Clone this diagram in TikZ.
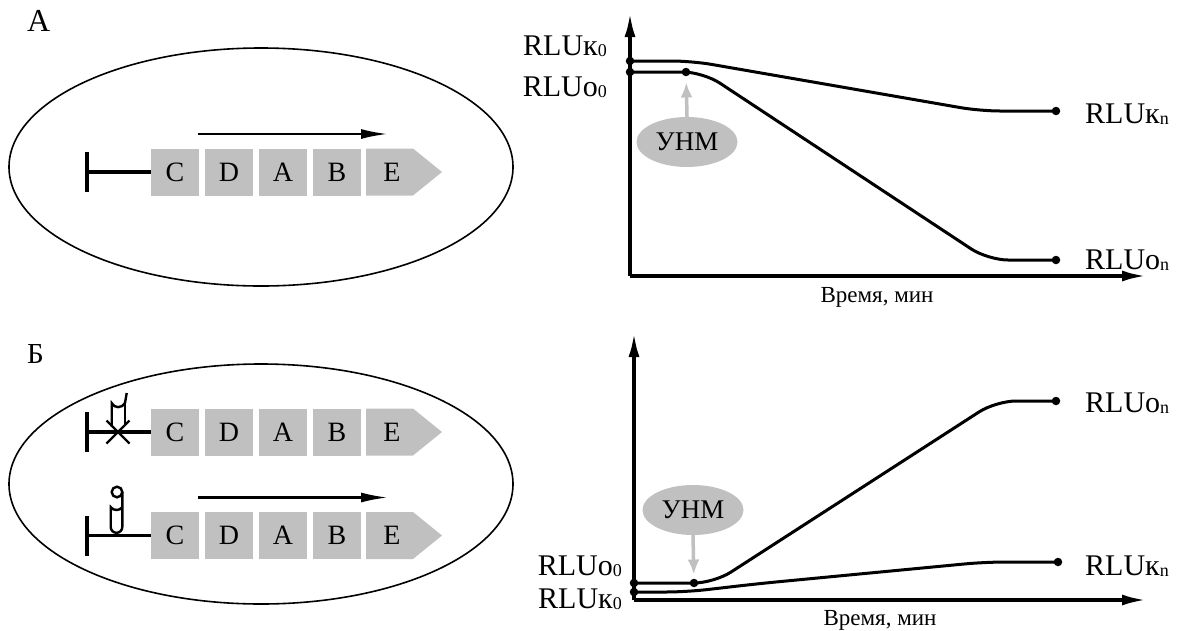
\documentclass[tikz,border=0pt]{standalone}
\usepackage{fontspec}
\setmainfont{Liberation Serif}
\usetikzlibrary{arrows.meta,shapes.geometric}
\definecolor{boxgray}{HTML}{C0C0C0}
\newcommand{\fsz}[1]{\fontsize{#1}{#1}\selectfont}
% RLU label: main letters, index letter, small subscript
\newcommand{\rlulab}[2]{\fsz{30}RLU#1\raisebox{-1pt}{\fsz{18}#2}}

\tikzset{
  pics/cassette/.style={code={
    \draw[tbar] (0,-20) -- (0,20);
    \node[genebox] (-c) at (88,0) {C};
    \node[genebox] (-d) at (142,0) {D};
    \node[genebox] (-a) at (196,0) {A};
    \node[genebox] (-b) at (250,0) {B};
    \fill[boxgray] (279,-23.5) -- (326,-23.5) -- (355,0) -- (326,23.5) -- (279,23.5) -- cycle;
    \node[genetext] (-e) at (305,0) {E};
    \draw[tbar] (-1.9,0) -- (-c.west);
    \coordinate (-txs) at (111,-38);
    \coordinate (-txe) at (301,-38);
  }}
}

\begin{document}
\begin{tikzpicture}[x=1pt,y=-1pt,
  cellwall/.style={ellipse,draw=black,line width=1.6pt,inner sep=0pt},
  genebox/.style={fill=boxgray,minimum width=48pt,minimum height=47pt,inner sep=0pt,font=\fsz{28},text depth=0pt},
  genetext/.style={inner sep=0pt,font=\fsz{28}},
  tbar/.style={line width=3.8pt},
  probe/.style={line width=2.4pt},
  tx/.style={line width=2.4pt,-{Latex[length=27pt,width=10pt]}},
  axis/.style={line width=3.4pt,-{Latex[length=24pt,width=11pt]}},
  curve/.style={line width=3pt,rounded corners=20pt},
  dot/.style={circle,fill=black,inner sep=0pt,minimum size=8.5pt},
  unm/.style={ellipse,fill=boxgray,minimum width=101pt,minimum height=50pt,inner sep=0pt,font=\fsz{27}},
  unmarrow/.style={draw=boxgray,line width=3.5pt,-{Latex[length=15pt,width=12pt]}},
  lbl/.style={inner sep=0pt},
]
\useasboundingbox (0,0) rectangle (1186,630);

% ---------------- panel A: cell ----------------
\node[lbl,anchor=base west,font=\fsz{32}] (titleA) at (27,31) {А};
\node[cellwall,minimum width=504pt,minimum height=238pt] (cellA) at (261,167) {};
\pic (ca) at (87,172) {cassette};
\draw[tx] (ca-txs) -- (ca-txe);

% ---------------- panel A: graph ----------------
\coordinate (oA) at (630,276);
\coordinate (yA) at (630,13);
\coordinate (xA) at (1146,276);
\draw[axis] (oA) -- (yA);
\draw[axis] (oA) -- (xA);

\coordinate (Ak0) at (630,61);
\coordinate (Ao0) at (630,72);
\coordinate (Akn) at (1056,111);
\coordinate (Aon) at (1056,260);
\draw[curve] (Ak0) -- (692,61) -- (980,111) -- (Akn);
\draw[curve] (Ao0) -- (703,72) -- (988,260) -- (Aon);
\node[dot] (dAk0) at (Ak0) {};
\node[dot] (dAo0) at (Ao0) {};
\node[dot] (dAos) at (686,72) {};
\node[dot] (dAkn) at (Akn) {};
\node[dot] (dAon) at (Aon) {};

\node[lbl,anchor=base east] (lAk0) at (607,55) {\rlulab{к}{0}};
\node[lbl,anchor=base east] (lAo0) at (607,96) {\rlulab{о}{0}};
\node[lbl,anchor=base west] (lAkn) at (1085,123) {\rlulab{к}{n}};
\node[lbl,anchor=base west] (lAon) at (1085,269) {\rlulab{о}{n}};

\node[unm] (uA) at (687,142) {УНМ};
\draw[unmarrow,shorten >=6pt] (uA.north) -- (dAos);
\node[lbl,anchor=base,font=\fsz{23}] (tA) at (877,302) {Время, мин};

% ---------------- panel B: cell ----------------
\node[lbl,anchor=base west,font=\fsz{29}] (titleB) at (27,363) {Б};
\node[cellwall,minimum width=504pt,minimum height=240pt] (cellB) at (261,484) {};
\pic (cb) at (87,432) {cassette};
\pic (cc) at (87,535.5) {cassette};
\draw[tx] (cc-txs) -- (cc-txe);

% blocked probe on the upper cassette
\draw[probe] (106.5,420.5) -- (129.5,443.5);
\draw[probe] (129.5,420.5) -- (106.5,443.5);
\draw[probe] (111.7,426.5) -- (111.7,403) .. controls (114,408.5) and (122,408.5) .. (125,403) -- (126.7,393);
\draw[probe] (125,404) -- (125,425.5);

% probe bound on the lower cassette
\draw[probe] (117,492) circle (5.3);
\draw[probe] (122.3,492) -- (122.3,527) arc (0:180:5.8) -- (110.7,507) .. controls (113,511) and (120,511) .. (122.3,507);

% ---------------- panel B: graph ----------------
\coordinate (oB) at (634,600);
\coordinate (yB) at (634,333);
\coordinate (xB) at (1146,600);
\draw[axis] (oB) -- (yB);
\draw[axis] (oB) -- (xB);

\coordinate (Bo0) at (634,583);
\coordinate (Bk0) at (634,592);
\coordinate (Bon) at (1056,401);
\coordinate (Bkn) at (1058,562);
\draw[curve] (Bo0) -- (714,583) -- (996,401) -- (Bon);
\draw[curve] (Bk0) -- (686,592) -- (760,583.5) -- (985,562) -- (Bkn);
\node[dot] (dBo0) at (Bo0) {};
\node[dot] (dBk0) at (Bk0) {};
\node[dot] (dBos) at (694,583) {};
\node[dot] (dBon) at (Bon) {};
\node[dot] (dBkn) at (Bkn) {};

\node[lbl,anchor=base east] (lBo0) at (622,575) {\rlulab{о}{0}};
\node[lbl,anchor=base east] (lBk0) at (622,608) {\rlulab{к}{0}};
\node[lbl,anchor=base west] (lBon) at (1085,412) {\rlulab{о}{n}};
\node[lbl,anchor=base west] (lBkn) at (1085,575) {\rlulab{к}{n}};

\node[unm] (uB) at (693,510) {УНМ};
\draw[unmarrow,shorten >=4pt] (uB.south) -- (dBos);
\node[lbl,anchor=base,font=\fsz{23}] (tB) at (880,625) {Время, мин};
\end{tikzpicture}
\end{document}
